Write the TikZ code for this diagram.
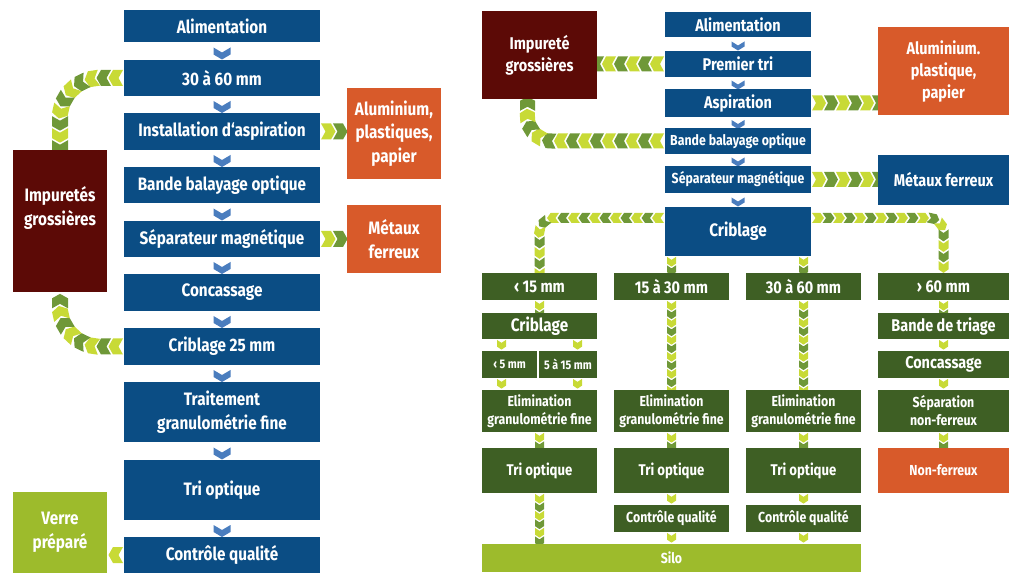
\documentclass[tikz,border=0pt]{standalone}
\usepackage{fontspec}
\setmainfont{Fira Sans}[FakeStretch=0.85]
\usetikzlibrary{decorations.markings,calc}

\definecolor{boxblue}{HTML}{0B4D84}
\definecolor{linkblue}{HTML}{4A7DBE}
\definecolor{boxred}{HTML}{5C0A06}
\definecolor{boxorange}{HTML}{D85A2A}
\definecolor{boxgreen}{HTML}{3E5F24}
\definecolor{boxlime}{HTML}{9DBB2C}
\definecolor{chevL}{HTML}{C8DA36}
\definecolor{chevD}{HTML}{6F9838}

\pgfdeclarelayer{bg}
\pgfsetlayers{bg,main}

% one chevron pointing along the local x axis: colour, half width, half body length, tip depth
\newcommand\chev[4]{\fill[#1, sharp corners] (-#3,-#2) -- (#3,-#2) -- ({#3+#4},0) -- (#3,#2) -- (-#3,#2) -- ({-#3+#4},0) -- cycle;}
% chevrons of a chain alternate between the light and the dark green
\newcommand\altchev[3]{%
  \ifodd\pgfkeysvalueof{/pgf/decoration/mark info/sequence number}\relax
    \chev{chevL}{#1}{#2}{#3}%
  \else
    \chev{chevD}{#1}{#2}{#3}%
  \fi}

% a box given by its corners, measured from the top left of the sheet:
% style, name, x1, y1, x2, y2, text
\newcommand\placebox[7]{%
  \node[#1, minimum width={(#5)-(#3)}, minimum height={(#6)-(#4)}] (#2) at ({((#3)+(#5))/2},{573-((#4)+(#6))/2}) {#7};}

\tikzset{
  box/.style={rectangle, inner sep=0pt, outer sep=0pt, text=white, align=center},
  bluebox/.style={box, fill=boxblue},
  redbox/.style={box, fill=boxred},
  orangebox/.style={box, fill=boxorange},
  greenbox/.style={box, fill=boxgreen},
  limebox/.style={box, fill=boxlime},
  fL/.style={font=\bfseries\fontsize{18}{23.5}\selectfont},
  fR/.style={font=\bfseries\fontsize{17}{22}\selectfont},
  fM/.style={font=\bfseries\fontsize{15.5}{18}\selectfont},
  fS/.style={font=\bfseries\fontsize{14.5}{18}\selectfont},
  fT/.style={font=\bfseries\fontsize{12.5}{15}\selectfont},
  % chain of chevrons: half width, half body length, tip depth, step
  flow/.style n args={4}{decoration={markings,
      mark=between positions 0.5*#4 and 1 step #4 with {\altchev{#1}{#2}{#3}}},
    decorate},
  bigflow/.style={flow={8}{5}{4.5}{12pt}},
  medflow/.style={flow={7.5}{5}{4}{12pt}},
  smallflow/.style={flow={5}{4.2}{3.5}{10.5pt}},
  tinyflow/.style={flow={4.5}{3.4}{3}{8.5pt}},
  link/.style={decoration={markings, mark=at position 0.5 with {\chev{linkblue}{8.5}{3.5}{5}}}, decorate},
  smalllink/.style={decoration={markings, mark=at position 0.5 with {\chev{linkblue}{6.5}{2.5}{4}}}, decorate},
}

\begin{document}
\begin{tikzpicture}[x=1pt, y=1pt]
\useasboundingbox (0,0) rectangle (1009,573);

% ---------- left process line ----------
\placebox{bluebox,fL}{alim1}{124}{10}{320}{42}{Alimentation}
\placebox{bluebox,fL}{p30}{124}{60}{320}{96}{30 à 60 mm}
\placebox{bluebox,fL}{asp1}{124}{113}{320}{150}{Installation d‘aspiration}
\placebox{bluebox,fL}{bande1}{124}{167}{320}{203}{Bande balayage optique}
\placebox{bluebox,fL}{sep1}{124}{221}{320}{257}{Séparateur magnétique}
\placebox{bluebox,fL}{conc1}{124}{274}{320}{311}{Concassage}
\placebox{bluebox,fL}{crib1}{124}{328}{320}{365}{Criblage 25 mm}
\placebox{bluebox,fL}{trait1}{124}{382}{320}{442}{Traitement\\granulométrie fine}
\placebox{bluebox,fL}{tri1}{124}{460}{320}{520}{Tri optique}
\placebox{bluebox,fL}{ctrl1}{124}{537}{320}{573}{Contrôle qualité}

\placebox{redbox}{imp1}{13}{150}{107}{292}{}
\node[box, fL] (imp1txt) at (60,365) {Impuretés\\grossières};
\placebox{orangebox,fL}{alu1}{347}{88}{441}{179}{Aluminium,\\plastiques,\\papier}
\placebox{orangebox,fL}{met1}{347}{205}{441}{273}{Métaux\\ferreux}
\placebox{limebox,fL}{verre}{13}{492}{107}{573}{Verre\\préparé}

% ---------- right process line ----------
\placebox{redbox,fR}{imp2}{482}{11}{597}{99}{Impureté\\grossières}
\placebox{bluebox,fR}{alim2}{665}{12}{811}{37}{Alimentation}
\placebox{bluebox,fR}{prem2}{665}{51}{811}{77}{Premier tri}
\placebox{bluebox,fR}{asp2}{665}{89}{811}{117}{Aspiration}
\placebox{bluebox,fS}{bande2}{665}{128}{811}{154}{Bande balayage optique}
\placebox{bluebox,fS}{sep2}{665}{166}{811}{193}{Séparateur magnétique}
\placebox{bluebox,fL}{crib2}{665}{207}{811}{256}{Criblage}
\placebox{orangebox,fR}{alu2}{878}{27}{1009}{115}{Aluminium.\\plastique,\\papier}
\placebox{bluebox,fR}{met2}{878}{155}{1009}{205}{Métaux ferreux}

% size classes
\placebox{greenbox,fR}{lt15}{482}{273}{597}{300}{‹ 15 mm}
\placebox{greenbox,fR}{r15}{614}{273}{729}{300}{15 à 30 mm}
\placebox{greenbox,fR}{r30}{746}{273}{861}{300}{30 à 60 mm}
\placebox{greenbox,fR}{gt60}{878}{273}{1009}{300}{› 60 mm}

\placebox{greenbox,fL}{crib3}{482}{313}{597}{339}{Criblage}
\placebox{greenbox,fR}{band4}{878}{313}{1009}{339}{Bande de triage}

\placebox{greenbox,fT}{lt5}{482}{351}{537}{378}{‹ 5 mm}
\placebox{greenbox,fT}{r5}{539}{351}{597}{378}{5 à 15 mm}
\placebox{greenbox,fR}{conc4}{878}{351}{1009}{378}{Concassage}

\placebox{greenbox,fS}{elim1}{482}{390}{597}{432}{Elimination\\granulométrie fine}
\placebox{greenbox,fS}{elim2}{614}{390}{729}{432}{Elimination\\granulométrie fine}
\placebox{greenbox,fS}{elim3}{746}{390}{861}{432}{Elimination\\granulométrie fine}
\placebox{greenbox,fS}{sepnf}{878}{390}{1009}{432}{Séparation\\non-ferreux}

\placebox{greenbox,fM}{tri2}{482}{448}{597}{493}{Tri optique}
\placebox{greenbox,fM}{tri3}{614}{448}{729}{493}{Tri optique}
\placebox{greenbox,fM}{tri4}{746}{448}{861}{493}{Tri optique}
\placebox{orangebox,fS}{nonf}{878}{448}{1009}{493}{Non-ferreux}

\placebox{greenbox,fS}{ctrl3}{614}{505}{729}{532}{Contrôle qualité}
\placebox{greenbox,fS}{ctrl4}{746}{505}{861}{532}{Contrôle qualité}

\placebox{limebox,fS}{silo}{482}{544}{861}{572}{Silo}

% free ends and bends of the curved chains
\coordinate (imp2in) at ([xshift=-12pt]imp2.south);
\coordinate (cribL) at ([yshift=-11pt]crib2.north west);
\coordinate (cribR) at ([yshift=-11pt]crib2.north east);

% ---------- connectors ----------
\begin{pgfonlayer}{bg}
  % left line
  \foreach \a/\b in {alim1/p30, p30/asp1, asp1/bande1, bande1/sep1, sep1/conc1,
                     conc1/crib1, crib1/trait1, trait1/tri1, tri1/ctrl1}
    \path[link] (\a.south) -- (\b.north);
  \path[bigflow] (p30.west) -- ($(p30.west -| imp1.north)+(40,0)$)
    arc[start angle=90, end angle=180, radius=40] -- (imp1.north);
  \path[bigflow] (crib1.west) -- ($(crib1.west -| imp1.south)+(40,0)$)
    arc[start angle=270, end angle=180, radius=40] -- (imp1.south);
  \path[bigflow] (asp1.east) -- (asp1.east -| alu1.west);
  \path[bigflow] (sep1.east) -- (sep1.east -| met1.west);
  \path[bigflow] (ctrl1.west) -- (ctrl1.west -| verre.east);

  % right line
  \foreach \a/\b in {alim2/prem2, prem2/asp2, asp2/bande2, bande2/sep2, sep2/crib2}
    \path[smalllink] (\a.south) -- (\b.north);
  \path[medflow] (prem2.west) -- (prem2.west -| imp2.east);
  \path[medflow] (bande2.west) -- ($(bande2.west -| imp2in)+(25,0)$)
    arc[start angle=270, end angle=180, radius=25] -- (imp2in);
  \path[medflow] (asp2.east) -- (asp2.east -| alu2.west);
  \path[medflow] (sep2.east) -- (sep2.east -| met2.west);

  \path[smallflow] (cribL) -- ($(cribL -| lt15.north)+(15,0)$)
    arc[start angle=90, end angle=180, radius=15] -- (lt15.north);
  \path[smallflow] (cribR) -- ($(cribR -| gt60.north)+(-15,0)$)
    arc[start angle=90, end angle=0, radius=15] -- (gt60.north);
  \path[tinyflow] (crib2.south -| r15.north) -- (r15.north);
  \path[tinyflow] (crib2.south -| r30.north) -- (r30.north);

  % fine fraction
  \path[tinyflow] (lt15.south) -- (crib3.north);
  \path[tinyflow] ([xshift=-38pt]crib3.south) -- ([xshift=-38pt]crib3.south |- lt5.north);
  \path[tinyflow] ([xshift=38pt]crib3.south) -- ([xshift=38pt]crib3.south |- r5.north);
  \path[tinyflow] ([xshift=-38pt]crib3.south |- lt5.south) -- ([xshift=-38pt]crib3.south |- elim1.north);
  \path[tinyflow] ([xshift=38pt]crib3.south |- r5.south) -- ([xshift=38pt]crib3.south |- elim1.north);
  \path[tinyflow] (elim1.south) -- (tri2.north);
  \path[tinyflow] (tri2.south) -- (tri2.south |- silo.north);

  % middle fractions
  \path[tinyflow] (r15.south) -- (elim2.north);
  \path[tinyflow] (elim2.south) -- (tri3.north);
  \path[tinyflow] (tri3.south) -- (ctrl3.north);
  \path[tinyflow] (ctrl3.south) -- (ctrl3.south |- silo.north);
  \path[tinyflow] (r30.south) -- (elim3.north);
  \path[tinyflow] (elim3.south) -- (tri4.north);
  \path[tinyflow] (tri4.south) -- (ctrl4.north);
  \path[tinyflow] (ctrl4.south) -- (ctrl4.south |- silo.north);

  % coarse fraction
  \path[tinyflow] (gt60.south) -- (band4.north);
  \path[tinyflow] (band4.south) -- (conc4.north);
  \path[tinyflow] (conc4.south) -- (sepnf.north);
  \path[tinyflow] (sepnf.south) -- (nonf.north);
\end{pgfonlayer}
\end{tikzpicture}
\end{document}
